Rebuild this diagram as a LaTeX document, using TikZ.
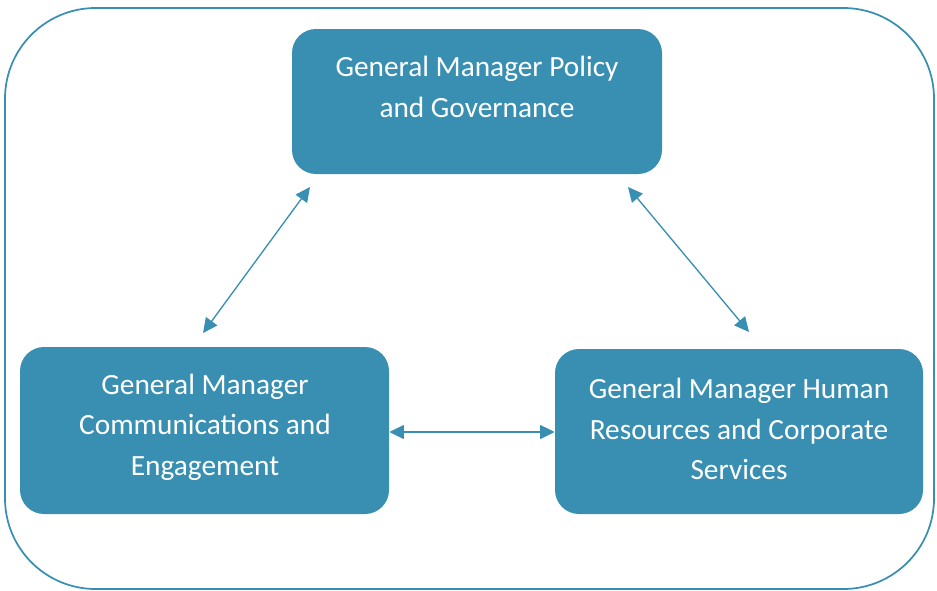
\documentclass[tikz,border=0pt]{standalone}
\usepackage{fontspec}
\setmainfont{Carlito}
\usetikzlibrary{arrows.meta}
\definecolor{teal}{RGB}{56,143,178}
\begin{document}
\begin{tikzpicture}[x=0.75pt,y=-0.75pt,
  box/.style={draw=none,fill=teal,rounded corners=18pt,inner sep=0pt},
  lbl/.style={text=white,font=\fontsize{22pt}{30.5pt}\selectfont,align=center,inner sep=0pt},
  link/.style={draw=teal,line width=1pt,{Triangle[length=11pt,width=10.5pt]}-{Triangle[length=11pt,width=10.5pt]}}]
\useasboundingbox (0,0) rectangle (937,590);
\draw[teal,line width=1.3pt,rounded corners=68pt] (5,8) rectangle (934,589);
\node[box,minimum width=370*0.75pt,minimum height=145*0.75pt] (top) at (477,101.5) {};
\node[box,minimum width=369*0.75pt,minimum height=167*0.75pt] (left) at (204.5,430.5) {};
\node[box,minimum width=368*0.75pt,minimum height=165*0.75pt] (right) at (739,431.5) {};
\node[lbl] (toptext) at (477,87) {General Manager Policy\\and Governance};
\node[lbl] (lefttext) at (205,427) {General Manager\\Communications and\\Engagement};
\node[lbl] (righttext) at (739,429) {General Manager Human\\Resources and Corporate\\Services};
\coordinate (a1) at (310,187);
\coordinate (a2) at (203,333);
\coordinate (b1) at (628,187);
\coordinate (b2) at (749,332);
\draw[link] (a1) -- (a2);
\draw[link] (b1) -- (b2);
\draw[link] (left.east |- 0,432) -- (right.west |- 0,432);
\end{tikzpicture}
\end{document}
